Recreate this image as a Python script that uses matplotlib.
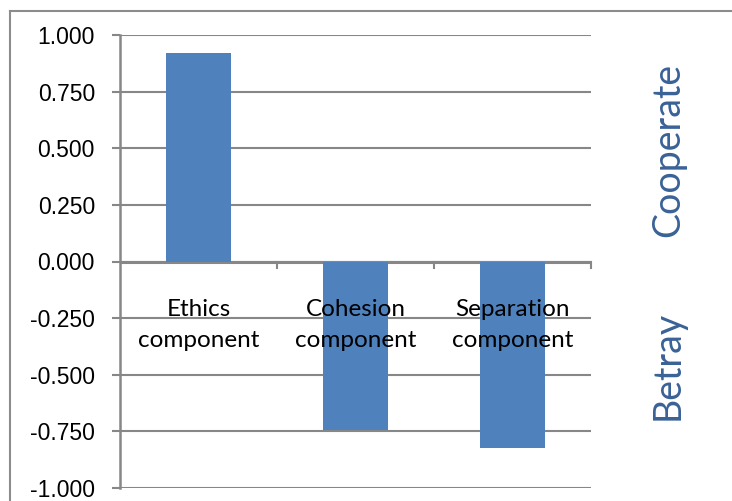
import matplotlib
matplotlib.use("Agg")
import matplotlib.pyplot as plt
from matplotlib.lines import Line2D

categories = ["Ethics\ncomponent", "Cohesion\ncomponent", "Separation\ncomponent"]
values = [0.922, -0.745, -0.823]
y_ticks = [-1.0, -0.75, -0.5, -0.25, 0.0, 0.25, 0.5, 0.75, 1.0]
side_labels = ["Cooperate", "Betray"]

bar_color = "#4F81BD"
grid_color = "#878787"
side_color = "#3A6296"

fig = plt.figure(figsize=(7.32, 5.01), dpi=100)
ax = fig.add_axes([120 / 732, 1 - 488 / 501, (591 - 120) / 732, (488 - 35) / 501])

x = list(range(len(categories)))
ax.bar(x, values, width=0.41, color=bar_color, zorder=2)

ax.set_xlim(-0.5, len(categories) - 0.5)
ax.set_ylim(-1.0, 1.0)
ax.set_yticks(y_ticks)
ax.set_yticklabels([f"{v:.3f}" for v in y_ticks], fontfamily="Liberation Sans", fontsize=16.5)
ax.tick_params(axis="y", direction="out", length=6, width=1.5, color=grid_color, pad=12)
ax.set_xticks([])
ax.yaxis.grid(True, color=grid_color, linewidth=1.5, zorder=0)
ax.set_axisbelow(True)

for side in ["top", "right", "bottom"]:
    ax.spines[side].set_visible(False)
ax.spines["left"].set_color(grid_color)
ax.spines["left"].set_linewidth(1.8)

# horizontal axis at zero with category-boundary ticks
ax.axhline(0, color=grid_color, linewidth=2.2, zorder=1)
for b in [0.5, 1.5, 2.5]:
    ax.plot([b, b], [0, -0.028], color=grid_color, linewidth=1.5, zorder=1, clip_on=False)

# category names just under the zero line
for xi, name in zip(x, categories):
    ax.text(xi, -0.165, name, ha="center", va="top", fontfamily="Lato",
            fontsize=17.5, color="black", linespacing=1.6, zorder=3)

# side annotations
fig.text(668 / 732, 1 - 150 / 501, side_labels[0], rotation=90, ha="center", va="center",
         fontfamily="Lato", fontsize=27, color=side_color)
fig.text(668 / 732, 1 - 365 / 501, side_labels[1], rotation=90, ha="center", va="center",
         fontfamily="Lato", fontsize=27, color=side_color)

# chart border (top and left edges visible)
bx, by = 9.5 / 732, 1 - 11 / 501
fig.add_artist(Line2D([bx, 1.0], [by, by], transform=fig.transFigure,
                      color="#8C8C8C", linewidth=1.5))
fig.add_artist(Line2D([bx, bx], [0.0, by], transform=fig.transFigure,
                      color="#8C8C8C", linewidth=1.5))

fig.savefig("out.png", dpi=100)
